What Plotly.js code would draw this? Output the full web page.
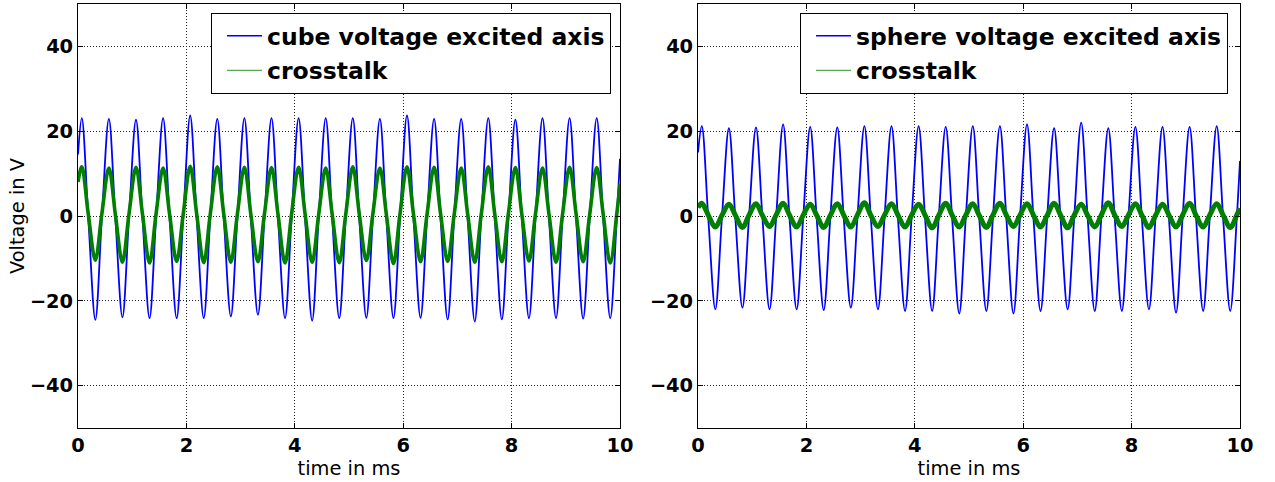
<!DOCTYPE html>
<html><head><meta charset="utf-8">
<script src="https://cdn.plot.ly/plotly-3.0.1.min.js"></script>
<style>html,body{margin:0;padding:0;background:#fff}</style>
</head><body><div id="chart" style="width:1275px;height:482px"></div>
<script>
// time in ms (peaks, zero crossings and troughs)
const time = [0,
 0.07,0.19,0.32,0.44, 0.57,0.69,0.82,0.94, 1.07,1.19,1.32,1.44, 1.57,1.69,1.82,1.94,
 2.07,2.19,2.32,2.44, 2.57,2.69,2.82,2.94, 3.07,3.19,3.32,3.44, 3.57,3.69,3.82,3.94,
 4.07,4.19,4.32,4.44, 4.57,4.69,4.82,4.94, 5.07,5.19,5.32,5.44, 5.57,5.69,5.82,5.94,
 6.07,6.19,6.32,6.44, 6.57,6.69,6.82,6.94, 7.07,7.19,7.32,7.44, 7.57,7.69,7.82,7.94,
 8.07,8.19,8.32,8.44, 8.57,8.69,8.82,8.94, 9.07,9.19,9.32,9.44, 9.57,9.69,9.82,9.94,
 10];

const cubeExcited = [14.5,
 23.1,-0.5,-24.5,-0.4, 22.9,-0.6,-23.9,-0.5, 22.7,-0.4,-24.1,-0.5, 23.1,-0.5,-24.1,-0.6,
 23.7,-0.5,-24.1,-0.4, 22.9,-0.5,-23.7,-0.5, 23.1,-0.6,-23.3,-0.5, 23.1,-0.4,-24.1,-0.5,
 23.1,-0.5,-24.7,-0.6, 23.1,-0.5,-24.1,-0.4, 23.1,-0.5,-24.0,-0.5, 22.9,-0.6,-24.1,-0.5,
 23.7,-0.4,-24.0,-0.5, 22.9,-0.5,-24.4,-0.6, 22.9,-0.5,-24.9,-0.4, 23.1,-0.5,-24.4,-0.5,
 22.7,-0.6,-24.1,-0.5, 23.1,-0.4,-24.1,-0.5, 23.1,-0.5,-24.2,-0.6, 23.1,-0.5,-24.1,-0.5,
 13.5];

const cubeCrosstalk = [8.0,
 11.6,0.4,-10.4,0.5, 11.3,0.3,-10.9,0.4, 11.5,0.4,-11.1,0.5, 11.3,0.4,-10.7,0.3,
 11.7,0.5,-11.0,0.4, 11.6,0.4,-10.9,0.4, 11.5,0.3,-10.8,0.5, 11.4,0.4,-11.1,0.4,
 11.5,0.5,-10.9,0.3, 11.3,0.4,-11.0,0.4, 11.6,0.4,-10.5,0.5, 11.3,0.3,-11.2,0.4,
 11.6,0.4,-10.8,0.4, 11.5,0.5,-10.7,0.3, 11.3,0.4,-10.9,0.4, 11.6,0.4,-10.8,0.5,
 11.4,0.3,-10.6,0.4, 11.3,0.4,-10.9,0.4, 11.5,0.5,-10.8,0.3, 11.4,0.4,-11.1,0.4,
 7.5];

const sphereExcited = [15.0,
 21.2,-0.6,-22.0,-0.7, 20.7,-0.7,-21.6,-0.6, 20.9,-0.6,-22.0,-0.7, 21.6,-0.7,-22.0,-0.6,
 21.0,-0.6,-22.2,-0.7, 20.9,-0.7,-21.6,-0.6, 21.2,-0.6,-22.0,-0.7, 21.2,-0.7,-22.4,-0.6,
 21.2,-0.6,-22.4,-0.7, 21.0,-0.7,-23.0,-0.6, 21.2,-0.6,-22.4,-0.7, 21.2,-0.7,-23.0,-0.6,
 21.6,-0.6,-22.4,-0.7, 20.7,-0.7,-22.0,-0.6, 22.0,-0.6,-22.4,-0.7, 20.7,-0.7,-22.4,-0.6,
 21.0,-0.6,-22.0,-0.7, 21.0,-0.7,-22.8,-0.6, 21.0,-0.6,-22.4,-0.7, 21.2,-0.7,-22.4,-0.6,
 13.0];

const sphereCrosstalk = [2.0,
 3.0,0.2,-2.6,0.1, 2.8,0.2,-2.7,0.2, 2.9,0.1,-2.5,0.2, 3.0,0.2,-2.6,0.2,
 2.8,0.2,-2.7,0.1, 2.9,0.2,-2.6,0.2, 3.1,0.1,-2.5,0.2, 2.9,0.2,-2.6,0.2,
 2.8,0.2,-2.8,0.1, 3.0,0.2,-2.6,0.2, 2.9,0.1,-2.7,0.2, 3.0,0.2,-2.5,0.2,
 2.9,0.2,-2.6,0.1, 3.0,0.2,-2.8,0.2, 2.8,0.1,-2.6,0.2, 3.1,0.2,-2.5,0.2,
 2.9,0.2,-2.7,0.1, 2.8,0.2,-2.6,0.2, 3.0,0.1,-2.6,0.2, 2.9,0.2,-2.7,0.2,
 1.8];

const seriesNames = ['cube voltage excited axis', 'crosstalk', 'sphere voltage excited axis', 'crosstalk'];
const xTicks = [0, 2, 4, 6, 8, 10];
const yTicks = [-40, -20, 0, 20, 40];
const xTitle = 'time in ms';
const yTitle = 'Voltage in V';

const BLUE = '#0000ff', GREEN = '#008000', LEGEND_GREEN = '#55aa55';
const FONT = 'DejaVu Sans';

function dataTrace(y, color, width, xa, ya) {
  return {x: time, y: y, xaxis: xa, yaxis: ya, mode: 'lines', showlegend: false,
    hoverinfo: 'skip', line: {color: color, width: width, shape: 'spline', smoothing: 1}};
}
// legend entries (thin line samples as in the reference legend)
function legendEntry(name, color, xa, ya, leg, grp) {
  return {x: [null], y: [null], xaxis: xa, yaxis: ya, mode: 'lines', name: name,
    legend: leg, legendgroup: grp, showlegend: true, line: {color: color, width: 1.3}};
}

const traces = [
  dataTrace(cubeExcited, BLUE, 1.8, 'x', 'y'),
  dataTrace(cubeCrosstalk, GREEN, 3.6, 'x', 'y'),
  dataTrace(sphereExcited, BLUE, 1.8, 'x2', 'y2'),
  dataTrace(sphereCrosstalk, GREEN, 5, 'x2', 'y2'),
  legendEntry(seriesNames[0], BLUE, 'x', 'y', 'legend', 'a'),
  legendEntry(seriesNames[1], LEGEND_GREEN, 'x', 'y', 'legend', 'b'),
  legendEntry(seriesNames[2], BLUE, 'x2', 'y2', 'legend2', 'c'),
  legendEntry(seriesNames[3], LEGEND_GREEN, 'x2', 'y2', 'legend2', 'd')
];

function axis(extra) {
  return Object.assign({
    showline: true, linecolor: '#000', linewidth: 1, mirror: 'ticks',
    ticks: 'inside', ticklen: 5, tickcolor: '#000', tickwidth: 1,
    showgrid: true, gridcolor: '#222', gridwidth: 1, griddash: '1px,2px',
    zeroline: false, fixedrange: true,
    tickfont: {family: FONT, size: 19.4, color: '#000', weight: 'bold'}
  }, extra);
}

const legendCommon = {
  bgcolor: '#fff', bordercolor: '#000', borderwidth: 1,
  font: {family: FONT, size: 23.5, color: '#000', weight: 'bold'},
  xanchor: 'right', yanchor: 'top', y: 0.9788,
  tracegroupgap: 1, itemwidth: 35, indentation: 10
};

const layout = {
  width: 1275, height: 482,
  margin: {l: 78, r: 35, t: 4, b: 53.5},
  paper_bgcolor: '#fff', plot_bgcolor: '#fff',
  showlegend: true,
  xaxis: axis({domain: [0, 0.46644], range: [0, 10], tickvals: xTicks, anchor: 'y', automargin: true,
    title: {text: xTitle, font: {family: FONT, size: 19.4, color: '#000'}, standoff: 0}}),
  yaxis: axis({domain: [0, 1], range: [-50, 50], tickvals: yTicks, anchor: 'x', automargin: true,
    title: {text: yTitle, font: {family: FONT, size: 19.4, color: '#000'}, standoff: 0}}),
  xaxis2: axis({domain: [0.53356, 1], range: [0, 10], tickvals: xTicks, anchor: 'y2', automargin: true,
    title: {text: xTitle, font: {family: FONT, size: 19.4, color: '#000'}, standoff: 0}}),
  yaxis2: axis({domain: [0, 1], range: [-50, 50], tickvals: yTicks, anchor: 'x2'}),
  legend: Object.assign({}, legendCommon, {x: 0.4587}),
  legend2: Object.assign({}, legendCommon, {x: 0.9897})
};

Plotly.newPlot('chart', traces, layout, {displayModeBar: false, staticPlot: true});
</script>
</body></html>
